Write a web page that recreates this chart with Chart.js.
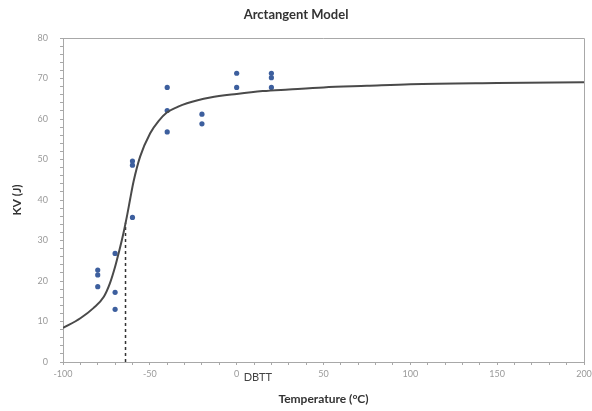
<!DOCTYPE html>
<html lang="en">
<head>
    <meta charset="UTF-8">
    <title>Arctangent Model</title>
    <script src="https://cdn.jsdelivr.net/npm/chart.js"></script>
    <style>
        body {
            margin: 0;
            background: #fff;
        }
        #wrap {
            width: 592px;
            height: 411px;
        }
    </style>
</head>
<body>

<div id="wrap">
    <canvas id="chart" width="592" height="411"></canvas>
</div>

<script>
    // measured Charpy points
    const tempPoints = [-80, -80, -80, -70, -70, -70, -60, -60, -60, -40, -40, -40, -20, -20, 0, 0, 20, 20, 20];
    const kvPoints   = [22.7, 21.5, 18.6, 26.8, 17.2, 13.0, 49.6, 48.6, 35.7, 67.8, 62.1, 56.8, 61.2, 58.8, 71.3, 67.8, 71.3, 70.2, 67.8];

    // fitted arctangent curve
    const curveT  = [-100, -90, -82.5, -76.5, -73, -70, -68, -65.2, -63, -61.3, -59.4, -55.6, -49.8, -45, -40.2, -34, -28.6, -15.2, 0, 15, 30, 50, 75, 100, 150, 200];
    const curveKV = [8.4, 10.8, 13.3, 16.1, 19.4, 23.5, 26.8, 31.8, 36.4, 40.3, 44.5, 50.7, 56.5, 59.5, 61.6, 63.0, 63.9, 65.3, 66.2, 66.9, 67.3, 67.8, 68.2, 68.6, 68.9, 69.1];

    // DBTT marker
    const dbttT  = [-64, -64];
    const dbttKV = [0, 34.4];

    const xTicks = [-100, -50, 0, 50, 100, 150, 200];
    const yTicks = [0, 10, 20, 30, 40, 50, 60, 70, 80];

    const toXY = (xs, ys) => xs.map((x, i) => ({x: x, y: ys[i]}));

    // title, frame and DBTT text
    const extras = {
        id: 'extras',
        afterDraw(chart) {
            const ctx = chart.ctx;
            const a = chart.chartArea;
            ctx.save();
            ctx.strokeStyle = '#a8a8a8';
            ctx.lineWidth = 1;
            ctx.beginPath();
            ctx.moveTo(a.left, a.top + 0.5);
            ctx.lineTo(a.right + 0.5, a.top + 0.5);
            ctx.lineTo(a.right + 0.5, a.bottom);
            ctx.stroke();

            ctx.fillStyle = '#333';
            ctx.font = 'bold 13px Lato';
            ctx.textAlign = 'center';
            ctx.textBaseline = 'middle';
            ctx.fillText('Arctangent Model', 296, 15);

            const x0 = chart.scales.x.getPixelForValue(0);
            ctx.font = '11px Lato';
            ctx.fillStyle = '#444';
            ctx.textAlign = 'left';
            ctx.fillText('DBTT', x0 + 7, 377);
            ctx.restore();
        }
    };

    new Chart(document.getElementById('chart'), {
        type: 'scatter',
        data: {
            datasets: [
                {
                    label: 'Arctangent fit',
                    type: 'line',
                    data: toXY(curveT, curveKV),
                    borderColor: '#4a4a4a',
                    borderWidth: 2,
                    pointRadius: 0,
                    cubicInterpolationMode: 'monotone',
                    fill: false
                },
                {
                    label: 'DBTT',
                    type: 'line',
                    data: toXY(dbttT, dbttKV),
                    borderColor: '#333',
                    borderWidth: 1.5,
                    borderDash: [3, 3],
                    pointRadius: 0,
                    fill: false
                },
                {
                    label: 'KV',
                    data: toXY(tempPoints, kvPoints),
                    backgroundColor: '#3d5f9e',
                    borderColor: '#3d5f9e',
                    pointRadius: 2.6,
                    borderWidth: 0
                }
            ]
        },
        options: {
            responsive: false,
            animation: false,
            layout: { padding: { top: 38, right: 8, left: 0, bottom: 0 } },
            plugins: {
                legend: { display: false },
                tooltip: { enabled: false }
            },
            scales: {
                x: {
                    type: 'linear',
                    min: -100,
                    max: 200,
                    afterFit: s => {
                        s.height = 49;
                        s.paddingLeft = 0;
                        s.paddingRight = 0;
                    },
                    afterBuildTicks: s => {
                        const t = [];
                        for (let v = -100; v <= 200; v += 10) t.push({value: v});
                        s.ticks = t;
                    },
                    ticks: {
                        autoSkip: false,
                        maxRotation: 0,
                        padding: 4,
                        color: '#9a9a9a',
                        font: { family: 'Lato', size: 9 },
                        callback: v => xTicks.includes(v) ? String(v) : ''
                    },
                    grid: {
                        drawOnChartArea: false,
                        tickLength: 3,
                        color: '#a8a8a8'
                    },
                    border: { color: '#a8a8a8' },
                    title: {
                        display: true,
                        text: 'Temperature (°C)',
                        color: '#333',
                        font: { family: 'Lato', size: 12, weight: 'bold' },
                        padding: { top: 0, bottom: 5 }
                    }
                },
                y: {
                    min: 0,
                    max: 80,
                    afterFit: s => { s.width = 63; },
                    afterBuildTicks: s => {
                        const t = [];
                        for (let v = 0; v <= 80; v += 2) t.push({value: v});
                        s.ticks = t;
                    },
                    ticks: {
                        autoSkip: false,
                        padding: 12,
                        color: '#9a9a9a',
                        font: { family: 'Lato', size: 9 },
                        callback: v => yTicks.includes(v) ? String(v) : ''
                    },
                    grid: {
                        drawOnChartArea: false,
                        tickLength: 3,
                        color: '#a8a8a8'
                    },
                    border: { color: '#a8a8a8' },
                    title: {
                        display: true,
                        text: 'KV (J)',
                        color: '#333',
                        font: { family: 'Lato', size: 12, weight: 'bold' },
                        padding: { top: 10, bottom: 4 }
                    }
                }
            }
        },
        plugins: [extras]
    });
</script>

</body>
</html>
